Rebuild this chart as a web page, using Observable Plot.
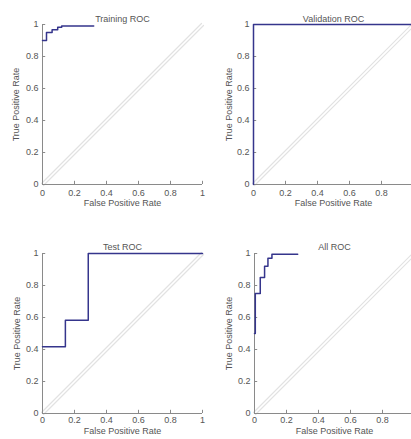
<!DOCTYPE html>
<html><head><meta charset="utf-8">
<script src="https://cdn.jsdelivr.net/npm/d3@7"></script>
<script src="https://cdn.jsdelivr.net/npm/@observablehq/plot@0.6"></script>
<style>
html,body{margin:0;padding:0;background:#fff;overflow:hidden;width:411px;height:439px;}
#wrap{position:relative;width:411px;height:439px;overflow:hidden;}
.panel{position:absolute;}
</style></head><body><div id="wrap"></div>
<script>
// ---- data ----
const titles = ["Training ROC", "Validation ROC", "Test ROC", "All ROC"];
const xLabel = "False Positive Rate";
const yLabel = "True Positive Rate";
const tickValues = [0, 0.2, 0.4, 0.6, 0.8, 1];
const rightColumnXTicks = [0, 0.2, 0.4, 0.6, 0.8];
const diagonal = [0, 1];

// ROC vertices (step-after: move right, then up)
const trainingFPR   = [0,   0.025, 0.06,  0.095, 0.12, 0.32];
const trainingTPR   = [0.9, 0.95,  0.967, 0.983, 0.99, 0.99];
const validationFPR = [0, 0, 1];
const validationTPR = [0, 1, 1];
const testFPR       = [0,     0.143, 0.286, 1];
const testTPR       = [0.417, 0.583, 1,     1];
const allFPR        = [0,   0.005, 0.036, 0.063, 0.084, 0.109, 0.27];
const allTPR        = [0.5, 0.75,  0.85,  0.92,  0.97,  0.995, 0.995];

const series = [
  {fpr: trainingFPR, tpr: trainingTPR},
  {fpr: validationFPR, tpr: validationTPR},
  {fpr: testFPR, tpr: testTPR},
  {fpr: allFPR, tpr: allTPR}
];

// ---- layout ----
const panels = [
  {left: 0,   top: 0,   width: 205, height: 220, ml: 42, mr: 3,  mt: 24, mb: 36, titleDy: -9,   xlDy: 21, ylDx: -26, tp: 5, xt: tickValues},
  {left: 205, top: 0,   width: 208, height: 220, ml: 48, mr: 0,  mt: 24, mb: 36, titleDy: -9,   xlDy: 21, ylDx: -24, tp: 5, xt: rightColumnXTicks},
  {left: 0,   top: 220, width: 205, height: 219, ml: 42, mr: 3,  mt: 33, mb: 26, titleDy: -9.5, xlDy: 20, ylDx: -25, tp: 3, xt: tickValues},
  {left: 205, top: 220, width: 208, height: 219, ml: 49, mr: -1, mt: 33, mb: 26, titleDy: -9.5, xlDy: 20, ylDx: -25, tp: 3, xt: rightColumnXTicks}
];

const axisColor = "#8a8a8a";
const textColor = "#555";
const curveColor = "#35358c";
const wrap = document.getElementById("wrap");

panels.forEach((p, i) => {
  const s = series[i];
  const pts = s.fpr.map((f, k) => ({fpr: f, tpr: s.tpr[k]}));
  const inner = tickValues.filter(t => t > 0);
  const chart = Plot.plot({
    width: p.width,
    height: p.height,
    marginLeft: p.ml, marginRight: p.mr, marginTop: p.mt, marginBottom: p.mb,
    style: {fontFamily: "'Liberation Sans', Arial, sans-serif", fontSize: "9px", color: textColor, background: "transparent", overflow: "visible"},
    x: {domain: [0, 1], ticks: p.xt, tickSize: 0, tickPadding: p.tp, tickFormat: d => String(d), label: null},
    y: {domain: [0, 1], ticks: tickValues, tickSize: 0, tickPadding: 4, tickFormat: d => String(d), label: null},
    marks: [
      Plot.line(diagonal, {x: d => d, y: d => d, stroke: "#e2e2e2", strokeWidth: 1.2, dx: -1, dy: -1}),
      Plot.line(diagonal, {x: d => d, y: d => d, stroke: "#e2e2e2", strokeWidth: 1.2, dx: 1, dy: 1}),
      Plot.ruleX([0], {stroke: axisColor}),
      Plot.ruleY([0], {stroke: axisColor}),
      Plot.ruleY(inner, {x1: 0, x2: 0.02, stroke: axisColor}),
      Plot.ruleX(inner, {y1: 0, y2: 0.02, stroke: axisColor}),
      Plot.line(pts, {x: "fpr", y: "tpr", curve: "step-after", stroke: curveColor, strokeWidth: 1.5}),
      Plot.text([titles[i]], {frameAnchor: "top", dy: p.titleDy, text: d => d, fill: textColor}),
      Plot.text([xLabel], {frameAnchor: "bottom", dy: p.xlDy, text: d => d, fill: textColor}),
      Plot.text([yLabel], {frameAnchor: "left", textAnchor: "middle", rotate: -90, dx: p.ylDx, text: d => d, fill: textColor})
    ]
  });
  chart.classList.add("panel");
  chart.style.left = p.left + "px";
  chart.style.top = p.top + "px";
  wrap.appendChild(chart);
});
</script>
</body></html>
